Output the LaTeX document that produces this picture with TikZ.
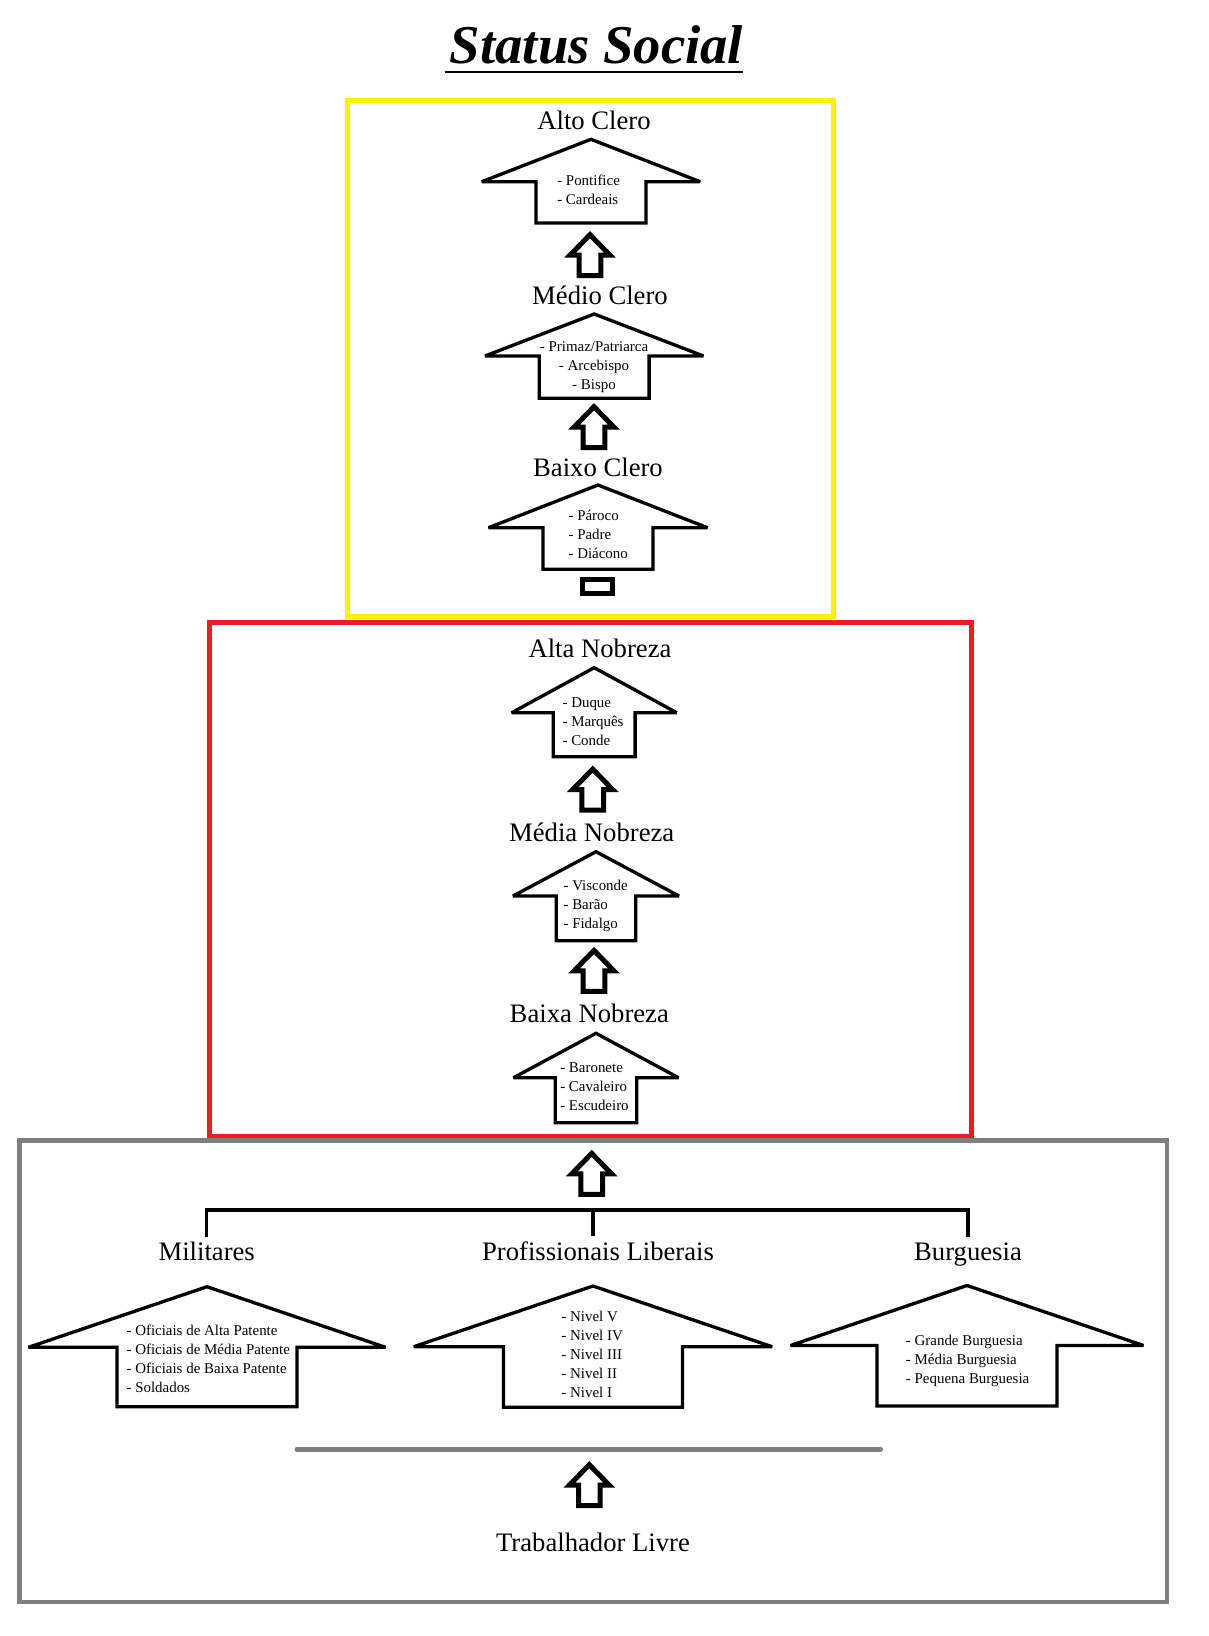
\documentclass[tikz,border=0pt]{standalone}
\usepackage{fontspec}
\setmainfont{Liberation Serif}
\usepackage{tikz}
\usetikzlibrary{calc}
\definecolor{YellowSS}{HTML}{FFF200}
\definecolor{RedSS}{HTML}{ED1C24}
\definecolor{GraySS}{HTML}{7F7F7F}
\newcommand\nodetitle{Status Social}
\newcommand\nodeac{Alto Clero}
\newcommand\nodemc{Médio Clero}
\newcommand\nodebc{Baixo Clero}
\newcommand\nodean{Alta Nobreza}
\newcommand\nodemn{Média Nobreza}
\newcommand\nodebn{Baixa Nobreza}
\newcommand\nodemil{Militares}
\newcommand\nodepl{Profissionais Liberais}
\newcommand\nodebur{Burguesia}
\newcommand\nodetl{Trabalhador Livre}
\tikzstyle{framebox} = [line width=3.5pt]
\tikzstyle{headtext} = [font=\fontsize{20}{24}\selectfont, inner sep=4pt, anchor=base]
\tikzstyle{itemtext} = [font=\fontsize{11.2}{14.25}\selectfont, inner sep=0pt, anchor=west, align=left]
\tikzstyle{link} = [line width=2.6pt]
\tikzstyle{houseline} = [line width=2.5pt, line join=miter, miter limit=2]
\tikzstyle{fatline} = [line width=3.75pt, line join=miter]
\tikzset{every picture/.style={x=0.75pt, y=-0.75pt},
  pics/house/.style args={#1/#2/#3/#4}{code={
    \draw[houseline] (-#3,0) -- (-#1,0) -- (0,-#2) -- (#1,0) -- (#3,0) -- (#3,#4) -- (-#3,#4) -- cycle;}},
  pics/fatup/.style={code={
    \draw[fatline] (0,0) -- (20,20.5) -- (10.8,20.5) -- (10.8,41) -- (-10.8,41) -- (-10.8,20.5) -- (-20,20.5) -- cycle;}}}

\begin{document}
\begin{tikzpicture}
\useasboundingbox (0,0) rectangle (1208,1636);
\node[font=\fontsize{41}{48}\selectfont\bfseries\itshape, inner sep=0pt, anchor=base] (title) at (596.5,63) {\nodetitle};
\draw[line width=1.5pt] ($(title.base west)+(-5,9)$) -- ($(title.base east)+(0,9)$);
\draw[framebox, YellowSS] (347.7,100.5) rectangle (833.3,616.3);
\draw[framebox, RedSS] (209.5,622.3) rectangle (971.5,1136);
\draw[framebox, GraySS] (19.5,1140.7) rectangle (1167,1602);
\node[headtext] (ac) at (594,129) {\nodeac};
\node[itemtext] (acl) at (557,189.5) {- Pontifice\\- Cardeais};
\pic at (591,181.7) {house=109.2/42.4/55/41.3};
\pic at (590,234.7) {fatup};
\node[headtext] (mc) at (600,304) {\nodemc};
\node[itemtext, anchor=center, align=center] (mcl) at (594,367.3) {- Primaz/Patriarca\\- Arcebispo\\- Bispo};
\pic at (594.2,356) {house=109.2/42/54.9/42.3};
\pic at (594,406.7) {fatup};
\node[headtext] (bc) at (598,476) {\nodebc};
\node[itemtext] (bcl) at (568.3,534.7) {- Pároco\\- Padre\\- Diácono};
\pic at (598,527.7) {house=109.5/42.7/55/41.6};
\draw[fatline] (582.7,579.3) rectangle (612,593);
\node[headtext] (an) at (600,657.3) {\nodean};
\node[itemtext] (anl) at (562.3,722) {- Duque\\- Marquês\\- Conde};
\pic at (594.2,712.7) {house=82.5/45/40.9/44};
\pic at (592.7,769.1) {fatup};
\node[headtext] (mn) at (591.7,841.7) {\nodemn};
\node[itemtext] (mnl) at (563.3,905.5) {- Visconde\\- Barão\\- Fidalgo};
\pic at (596,896) {house=83/44.3/39.8/44.7};
\pic at (594,950.4) {fatup};
\node[headtext] (bn) at (589.3,1022.7) {\nodebn};
\node[itemtext] (bnl) at (560,1087) {- Baronete\\- Cavaleiro\\- Escudeiro};
\pic at (596,1077.7) {house=82.5/44.4/40.7/45};
\pic at (591.7,1153.4) {fatup};
\coordinate (fork) at (593,1210);
\node[headtext] (mil) at (206.7,1260.7) {\nodemil};
\node[headtext] (pl) at (598,1260.7) {\nodepl};
\node[headtext] (bur) at (968,1260.7) {\nodebur};
\draw[link] (mil.north) |- (fork) -| (bur.north);
\draw[link] (fork) -- (fork |- pl.north);
\node[itemtext] (mill) at (126.3,1358.7) {- Oficiais de Alta Patente\\- Oficiais de Média Patente\\- Oficiais de Baixa Patente\\- Soldados};
\pic at (207,1347.3) {house=178.5/60.6/90/59.4};
\node[itemtext] (pll) at (561.2,1354) {- Nivel V\\- Nivel IV\\- Nivel III\\- Nivel II\\- Nivel I};
\pic at (593,1346.7) {house=179.2/60.7/89.5/60.6};
\node[itemtext] (burl) at (905.7,1361) {- Grande Burguesia\\- Média Burguesia\\- Pequena Burguesia};
\pic at (967,1345.5) {house=176.5/60/90/60.5};
\draw[line width=3.75pt, GraySS, line cap=round] (297,1449.3) -- (880.5,1449.3);
\pic at (589.3,1464.7) {fatup};
\node[headtext] (tl) at (593,1551.7) {\nodetl};
\end{tikzpicture}
\end{document}
